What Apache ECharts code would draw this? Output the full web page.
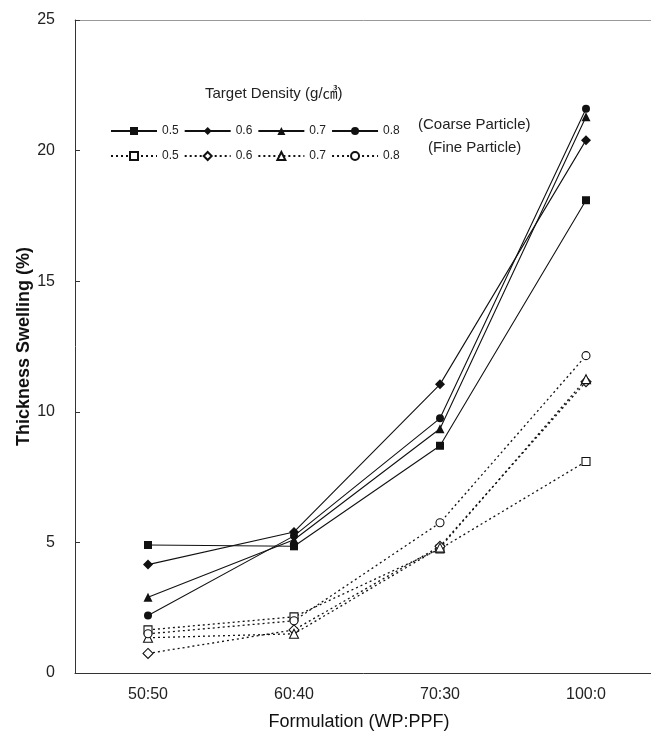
<!DOCTYPE html>
<html>
<head>
<meta charset="utf-8">
<script src="https://cdn.jsdelivr.net/npm/echarts@6/dist/echarts.min.js"></script>
<style>
  html, body { margin: 0; padding: 0; background: #fff; }
  #chart { width: 651px; height: 735px; }
</style>
</head>
<body>
<div id="chart"></div>
<script>
// formulation categories
var categories = ['50:50', '60:40', '70:30', '100:0'];
var densities = ['0.5', '0.6', '0.7', '0.8'];

// coarse particle (solid lines)
var coarse05 = [4.9, 4.85, 8.7, 18.1];
var coarse06 = [4.15, 5.4, 11.05, 20.4];
var coarse07 = [2.9, 5.1, 9.35, 21.3];
var coarse08 = [2.2, 5.25, 9.75, 21.6];

// fine particle (dotted lines)
var fine05 = [1.65, 2.15, 4.75, 8.1];
var fine06 = [0.75, 1.65, 4.85, 11.15];
var fine07 = [1.35, 1.5, 4.8, 11.25];
var fine08 = [1.5, 2.0, 5.75, 12.15];

var yTicks = [0, 5, 10, 15, 20, 25];

var font = 'Liberation Sans, Arial, Noto Sans CJK KR, sans-serif';
var symbols = ['rect', 'diamond', 'triangle', 'circle'];
var symSizes = [8, 10, 9, 8];

var myChart = echarts.init(document.getElementById('chart'));

function mkSeries(prefix, data, i, fine) {
    return {
        name: prefix + densities[i],
        type: 'line',
        data: data,
        symbol: symbols[i],
        symbolSize: symSizes[i],
        showAllSymbol: true,
        z: fine ? 2 : 3,
        lineStyle: {
            color: '#111',
            width: fine ? 1.3 : 1.1,
            type: fine ? [2, 3] : 'solid'
        },
        itemStyle: {
            color: fine ? '#fff' : '#111',
            borderColor: '#111',
            borderWidth: fine ? 1.1 : 0
        },
        emphasis: { disabled: true }
    };
}

var series = [
    mkSeries('C', coarse05, 0, false),
    mkSeries('C', coarse06, 1, false),
    mkSeries('C', coarse07, 2, false),
    mkSeries('C', coarse08, 3, false),
    mkSeries('F', fine05, 0, true),
    mkSeries('F', fine06, 1, true),
    mkSeries('F', fine07, 2, true),
    mkSeries('F', fine08, 3, true)
];

var legendCommon = {
    left: 105,
    itemWidth: 46,
    itemHeight: 10,
    itemGap: 5,
    textStyle: { fontFamily: font, fontSize: 12, color: '#222' },
    formatter: function (name) { return name.slice(1); },
    selectedMode: false
};

var option = {
    backgroundColor: '#fff',
    animation: false,
    grid: { left: 75, right: -8, top: 20, bottom: 62, outerBoundsMode: 'none' },
    legend: [
        Object.assign({}, legendCommon, { top: 120, data: densities.map(function (d) { return 'C' + d; }) }),
        Object.assign({}, legendCommon, { top: 145, data: densities.map(function (d) { return 'F' + d; }) })
    ],
    graphic: [
        { type: 'text', left: 205, top: 86, style: { text: 'Target Density (g/㎤)', font: '15px ' + font, fill: '#222' } },
        { type: 'text', left: 418, top: 117, style: { text: '(Coarse Particle)', font: '15px ' + font, fill: '#222' } },
        { type: 'text', left: 428, top: 140, style: { text: '(Fine Particle)', font: '15px ' + font, fill: '#222' } }
    ],
    xAxis: [{
        type: 'category',
        data: categories,
        boundaryGap: true,
        position: 'bottom',
        name: 'Formulation (WP:PPF)',
        nameLocation: 'middle',
        nameGap: 40,
        nameTextStyle: { fontFamily: font, fontSize: 18, color: '#111', padding: [0, 16, 0, 0] },
        axisLine: { lineStyle: { color: '#333', width: 1 } },
        axisTick: { alignWithLabel: true, inside: false, length: 5, lineStyle: { color: '#333' } },
        axisLabel: { fontFamily: font, fontSize: 16, color: '#222', margin: 14 },
        splitLine: { show: false }
    }, {
        type: 'category',
        data: categories,
        boundaryGap: true,
        position: 'bottom',
        axisLine: { show: false },
        axisTick: { inside: true, length: 4, lineStyle: { color: '#888' } },
        axisLabel: { show: false },
        splitLine: { show: false }
    }, {
        type: 'category',
        data: categories,
        position: 'top',
        axisLine: { lineStyle: { color: '#999', width: 1 } },
        axisTick: { show: false },
        axisLabel: { show: false }
    }],
    yAxis: {
        type: 'value',
        min: yTicks[0],
        max: yTicks[yTicks.length - 1],
        interval: 5,
        name: 'Thickness Swelling (%)',
        nameLocation: 'middle',
        nameGap: 42,
        nameMoveOverlap: false,
        nameTextStyle: { fontFamily: font, fontSize: 18, fontWeight: 'bold', color: '#111' },
        axisLine: { show: true, lineStyle: { color: '#333', width: 1 } },
        axisTick: { show: true, inside: true, length: 5, lineStyle: { color: '#333' } },
        axisLabel: { fontFamily: font, fontSize: 16, color: '#222', margin: 20 },
        splitLine: { show: false }
    },
    series: series
};

myChart.setOption(option);
</script>
</body>
</html>
